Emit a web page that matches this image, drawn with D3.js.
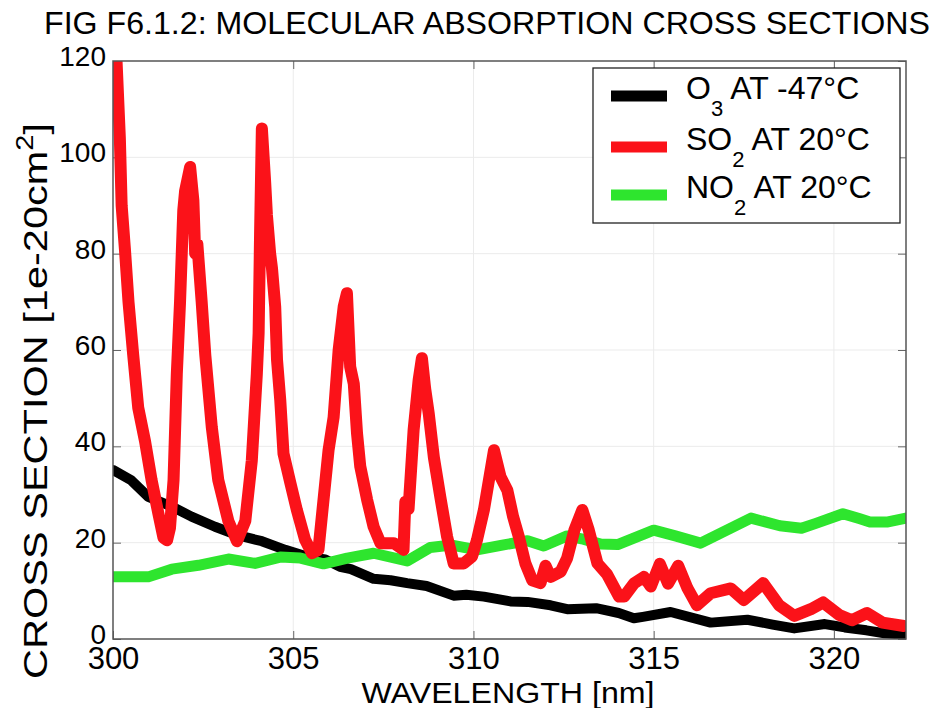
<!DOCTYPE html>
<html lang="en">
<head>
<meta charset="UTF-8" />
<title>Molecular absorption cross sections</title>
<script src="https://d3js.org/d3.v7.min.js"></script>
<style>
  body { margin: 0; background: #fff; }
  svg { display: block; font-family: "Liberation Sans", Arial, sans-serif; }
  .grid line { stroke: #ebebeb; stroke-width: 1; }
  .axis line { stroke: #666; stroke-width: 1; }
  .axis text { fill: #000; }
  .series { fill: none; stroke-linejoin: round; stroke-linecap: round; }
</style>
</head>
<body>
<svg width="941" height="708"></svg>
<script>
// [wavelength nm, cross section 1e-20 cm^2]
const o3Data = [
  [300.0, 35.1], [300.5, 33], [300.98, 29.5], [301.63, 27.5], [302.18, 25.4],
  [302.83, 23.3], [303.48, 21.5], [304.13, 20.3], [304.78, 18.5], [305.38, 17.1],
  [305.89, 16.5], [306.3, 15], [306.6, 14.5], [307.23, 12.5], [307.7, 12.2],
  [308.16, 11.6], [308.7, 11], [309.45, 9], [309.8, 9.2], [310.29, 8.8],
  [311.03, 7.8], [311.5, 7.7], [312.14, 7], [312.6, 6.2], [313.4, 6.4],
  [314.03, 5.4], [314.45, 4.3], [314.7, 4.6], [315.47, 5.6], [316.58, 3.4],
  [317.6, 4.0], [318.3, 3.0], [318.9, 2.2], [319.75, 3.1], [320.3, 2.4],
  [320.9, 1.8], [321.4, 1.2], [321.95, 0.9]
];

const so2Data = [
  [300.05, 119], [300.1, 119.7], [300.19, 104], [300.24, 90], [300.33, 81],
  [300.43, 70], [300.56, 59], [300.7, 48], [300.89, 41], [301.07, 33],
  [301.26, 26], [301.4, 21], [301.5, 20.5], [301.58, 23], [301.68, 33],
  [301.77, 55], [301.86, 70], [301.95, 89], [302.0, 93], [302.14, 98],
  [302.23, 91], [302.28, 80], [302.34, 82], [302.46, 70], [302.56, 59],
  [302.74, 44], [302.92, 33], [303.2, 24.5], [303.44, 20.3], [303.67, 24.5],
  [303.85, 37], [303.99, 55], [304.04, 63.5], [304.08, 84], [304.13, 106],
  [304.22, 95], [304.27, 88], [304.36, 80], [304.41, 77], [304.5, 69],
  [304.55, 58], [304.64, 49.6], [304.73, 38.5], [304.92, 32.4], [305.1, 26.8],
  [305.33, 20.6], [305.52, 17.8], [305.7, 18.5], [305.84, 28.9], [305.98, 39.2],
  [306.12, 46], [306.26, 60], [306.4, 69], [306.49, 71.8], [306.58, 56.5],
  [306.68, 53], [306.77, 42.7], [306.86, 35.8], [307.05, 28.9], [307.23, 23.3],
  [307.42, 19.9], [307.79, 19.9], [308.06, 18.5], [308.11, 28.5], [308.2, 27],
  [308.34, 43.4], [308.48, 53.8], [308.57, 58.3], [308.66, 52], [308.76, 46.8],
  [308.9, 37.8], [309.08, 29.5], [309.27, 21.2], [309.45, 15.7], [309.73, 15.7],
  [309.96, 17.1], [310.1, 20.6], [310.29, 26.8], [310.43, 33], [310.57, 39.2],
  [310.75, 33.7], [310.94, 30.9], [311.1, 25.4], [311.26, 21.2], [311.44, 15.7],
  [311.63, 12.2], [311.86, 11.6], [312.0, 15.2], [312.14, 12.9], [312.42, 14],
  [312.6, 16.8], [312.8, 22.6], [313.02, 26.8], [313.2, 22.6], [313.44, 15.7],
  [313.7, 13.5], [314.04, 8.8], [314.18, 8.8], [314.45, 11.5], [314.73, 12.9],
  [314.92, 10.9], [315.17, 15.6], [315.4, 11.5], [315.68, 15.2], [315.94, 10.5],
  [316.2, 7.0], [316.58, 9.5], [317.14, 10.5], [317.5, 8.1], [318.04, 11.6],
  [318.48, 7.0], [318.9, 4.8], [319.36, 6.2], [319.7, 7.6], [320.15, 5.0],
  [320.5, 3.9], [320.92, 5.4], [321.35, 3.4], [321.94, 2.7]
];

const no2Data = [
  [300.0, 12.9], [300.98, 12.9], [301.63, 14.5], [302.37, 15.3], [303.2, 16.6],
  [303.94, 15.7], [304.64, 17], [305.2, 16.8], [305.84, 15.6], [306.5, 16.8],
  [307.23, 17.8], [308.16, 16.2], [308.8, 19], [309.4, 19.5], [310.1, 18.5],
  [310.8, 19.5], [311.5, 20.4], [311.95, 19.3], [312.6, 21.4], [313.0, 20.8],
  [313.53, 19.7], [314.0, 19.6], [315.0, 22.6], [315.6, 21.4], [316.3, 19.9],
  [317.0, 22.5], [317.7, 25.1], [318.5, 23.5], [319.1, 23], [319.5, 24],
  [320.25, 26], [320.7, 25], [321.0, 24.3], [321.5, 24.3], [322.0, 25.1]
];

const xTicks = [300, 305, 310, 315, 320];
const yTicks = [0, 20, 40, 60, 80, 100, 120];
const seriesColors = ["#000000", "#fb1219", "#2ee52e"];
// name, subscript, rest of label
const legendLabels = [["O", "3", " AT -47\u00B0C"], ["SO", "2", " AT 20\u00B0C"], ["NO", "2", " AT 20\u00B0C"]];

const margin = { top: 61, right: 35, bottom: 69, left: 113 };
const width = 941 - margin.left - margin.right;
const height = 708 - margin.top - margin.bottom;

const svg = d3.select("svg");
const g = svg.append("g").attr("transform", `translate(${margin.left},${margin.top})`);

const x = d3.scaleLinear().domain([300, 322]).range([0, width]);
const y = d3.scaleLinear().domain([0, 120]).range([height, 0]);

// faint grid
g.append("g").attr("class", "grid")
  .selectAll("line").data(xTicks.slice(1)).enter().append("line")
  .attr("x1", d => x(d)).attr("x2", d => x(d)).attr("y1", 0).attr("y2", height);
g.append("g").attr("class", "grid")
  .selectAll("line").data(yTicks.slice(1, -1)).enter().append("line")
  .attr("x1", 0).attr("x2", width).attr("y1", d => y(d)).attr("y2", d => y(d));

// axes with inward ticks
const xAxis = g.append("g").attr("class", "axis")
  .attr("transform", `translate(0,${height})`)
  .call(d3.axisBottom(x).tickValues(xTicks).tickSizeInner(-8).tickSizeOuter(0).tickPadding(8));
xAxis.selectAll("text").style("font-size", "31px");

const yAxis = g.append("g").attr("class", "axis")
  .call(d3.axisLeft(y).tickValues(yTicks).tickSizeInner(-8).tickSizeOuter(0).tickPadding(7));
yAxis.selectAll("text").style("font-size", "28px").attr("dy", "0.16em");

g.append("g").attr("class", "axis")
  .call(d3.axisTop(x).tickValues(xTicks).tickSizeInner(-8).tickSizeOuter(0).tickFormat(""));
g.append("g").attr("class", "axis")
  .attr("transform", `translate(${width},0)`)
  .call(d3.axisRight(y).tickValues(yTicks).tickSizeInner(-8).tickSizeOuter(0).tickFormat(""));
g.selectAll(".axis .domain").remove();

// series
g.append("defs").append("clipPath").attr("id", "clip")
  .append("rect").attr("width", width).attr("height", height);

const line = d3.line().x(d => x(d[0])).y(d => y(d[1]));
const plot = g.append("g").attr("clip-path", "url(#clip)");
[[o3Data, 0, 10], [no2Data, 2, 11], [so2Data, 1, 12]].forEach(([data, ci, w]) => {
  plot.append("path").datum(data)
    .attr("class", "series")
    .attr("stroke", seriesColors[ci])
    .attr("stroke-width", w)
    .attr("d", line);
});

// frame
g.append("rect").attr("width", width).attr("height", height)
  .attr("fill", "none").attr("stroke", "#555").attr("stroke-width", 1.5);

// legend
const legend = svg.append("g").attr("transform", "translate(593,68)");
legend.append("rect").attr("width", 307).attr("height", 155)
  .attr("fill", "#fff").attr("stroke", "#222").attr("stroke-width", 1.3);
const rowY = [28, 79, 127];
legendLabels.forEach((lab, i) => {
  legend.append("line")
    .attr("x1", 18).attr("x2", 74).attr("y1", rowY[i]).attr("y2", rowY[i])
    .attr("stroke", seriesColors[i]).attr("stroke-width", 11);
  const t = legend.append("text").attr("x", 93).attr("y", rowY[i] + 3)
    .style("font-size", "32px");
  t.append("tspan").text(lab[0]);
  t.append("tspan").attr("dy", 17).style("font-size", "22px").text(lab[1]);
  t.append("tspan").attr("dy", -17).text(lab[2]);
});

// title and axis labels
svg.append("text")
  .attr("x", 44).attr("y", 34)
  .attr("textLength", 886).attr("lengthAdjust", "spacingAndGlyphs")
  .style("font-size", "32px")
  .text("FIG F6.1.2: MOLECULAR ABSORPTION CROSS SECTIONS");

svg.append("text")
  .attr("x", 508).attr("y", 703)
  .attr("text-anchor", "middle")
  .attr("textLength", 293).attr("lengthAdjust", "spacingAndGlyphs")
  .style("font-size", "30px")
  .text("WAVELENGTH [nm]");

const yl = svg.append("text")
  .attr("transform", "rotate(-90)")
  .attr("x", -401).attr("y", 47)
  .attr("text-anchor", "middle")
  .attr("textLength", 556).attr("lengthAdjust", "spacingAndGlyphs")
  .style("font-size", "33px");
yl.append("tspan").text("CROSS SECTION [1e-20cm");
yl.append("tspan").attr("dy", -14).style("font-size", "23px").text("2");
yl.append("tspan").attr("dy", 14).text("]");
</script>
</body>
</html>
